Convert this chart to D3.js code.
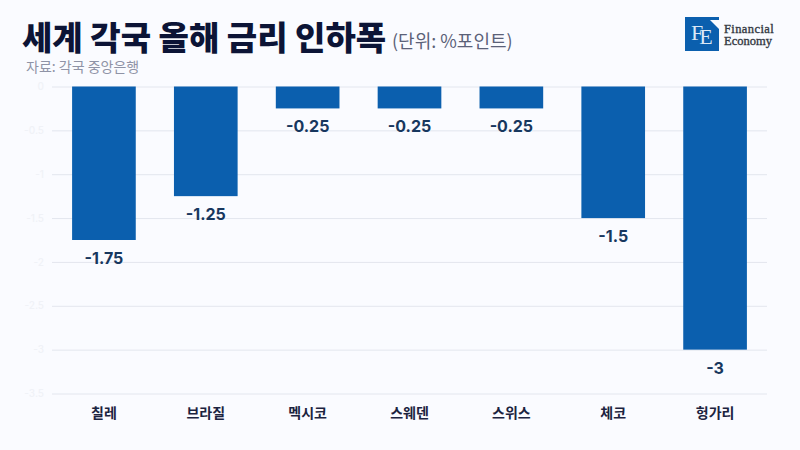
<!DOCTYPE html>
<html>
<head>
<meta charset="utf-8">
<script src="https://cdn.jsdelivr.net/npm/d3@7"></script>
<style>
html,body{margin:0;padding:0;background:#fafbff;}
svg{display:block;}
text{font-family:"Inter","Noto Sans CJK KR",sans-serif;}
</style>
</head>
<body>
<div id="canvas"></div>
<script>
var categories = ["칠레","브라질","멕시코","스웨덴","스위스","체코","헝가리"];
var values = [-1.75,-1.25,-0.25,-0.25,-0.25,-1.5,-3];
var yTicks = [0,-0.5,-1,-1.5,-2,-2.5,-3,-3.5];

var svg = d3.select("#canvas").append("svg")
    .attr("width",800)
    .attr("height",450);

var x = d3.scaleBand().domain(categories).range([53,766]).paddingInner(0.375).paddingOuter(0.1875);
var y = d3.scaleLinear().domain([0,-3.5]).range([86.5,393.5]);

// grid and y labels
var yAxis = svg.append("g")
    .attr("transform","translate(52,0)")
    .call(d3.axisLeft(y).tickValues(yTicks).tickSize(-715).tickPadding(8).tickFormat(function(d){return String(d);}));
yAxis.select(".domain").remove();
yAxis.selectAll("line").attr("stroke","#e3e6ee").attr("stroke-width",1);
yAxis.selectAll("text").attr("fill","#f0f2f7").attr("font-size",10).attr("font-weight",500);

// bars
svg.selectAll("rect.bar").data(values).enter().append("rect")
    .attr("class","bar")
    .attr("x",function(d,i){return x(categories[i]);})
    .attr("y",y(0))
    .attr("width",x.bandwidth())
    .attr("height",function(d){return y(d)-y(0);})
    .attr("fill","#0b5fae");

// value labels
svg.selectAll("text.val").data(values).enter().append("text")
    .attr("class","val")
    .attr("x",function(d,i){return x(categories[i])+x.bandwidth()/2;})
    .attr("y",function(d){return y(d)+24;})
    .attr("text-anchor","middle")
    .attr("font-size",16)
    .attr("font-weight",700)
    .attr("fill","#17375e")
    .text(function(d){return String(d);});

// category labels
var xAxis = svg.append("g")
    .attr("transform","translate(0,393.5)")
    .call(d3.axisBottom(x).tickSize(0).tickPadding(15));
xAxis.select(".domain").remove();
xAxis.selectAll("text").attr("fill","#1c2340").attr("font-size",14).attr("font-weight",600)
    .style("font-family",'"Noto Sans CJK KR",sans-serif');

// title
svg.append("text").attr("x",22).attr("y",50)
    .attr("font-size",33).attr("font-weight",900).attr("fill","#0c1436")
    .style("font-family",'"Noto Sans CJK KR",sans-serif')
    .text("세계 각국 올해 금리 인하폭");
svg.append("text").attr("x",392).attr("y",48)
    .attr("font-size",18).attr("fill","#5b6178")
    .style("font-family",'"Noto Sans CJK KR",sans-serif')
    .text("(단위: %포인트)");
svg.append("text").attr("x",26).attr("y",72)
    .attr("font-size",14).attr("fill","#8f93a6")
    .style("font-family",'"Noto Sans CJK KR",sans-serif')
    .text("자료: 각국 중앙은행");

// logo
var logo = svg.append("g");
logo.append("rect").attr("x",685).attr("y",17).attr("width",34).attr("height",34).attr("fill","#0b5fae");
logo.append("path").attr("d","M710 20L719 20L719 29Z").attr("fill","#fafbff");
var fe = logo.append("text").attr("x",691).attr("y",40).attr("font-size",22).attr("fill","#dbe8f6")
    .style("font-family",'"Liberation Serif",serif');
fe.append("tspan").text("F");
fe.append("tspan").attr("dx",-4).attr("dy",4).text("E");
var brand = logo.append("text").attr("x",724).attr("y",33).attr("font-size",12.5).attr("fill","#333842")
    .attr("stroke","#333842").attr("stroke-width",0.35)
    .style("font-family",'"Liberation Serif",serif');
brand.append("tspan").attr("x",724).attr("letter-spacing",0.4).text("Financial");
brand.append("tspan").attr("x",724).attr("dy",11.5).text("Economy");
</script>
</body>
</html>
